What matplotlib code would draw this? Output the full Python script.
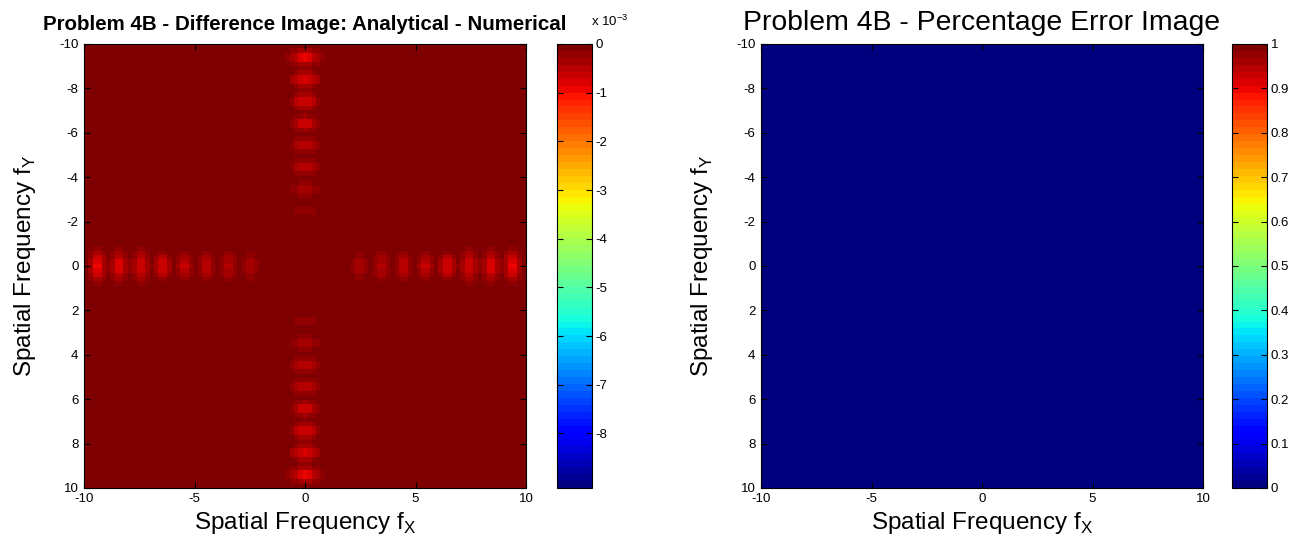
import matplotlib
matplotlib.use('Agg')
import matplotlib.pyplot as plt
import numpy as np

plt.rcParams['font.family'] = ['Liberation Sans', 'DejaVu Sans']
plt.rcParams['axes.unicode_minus'] = False

# blob centres along fy=0 (horizontal streak) and fx=0 (vertical streak)
h_centres = [-9.5, -8.5, -7.5, -6.5, -5.5, -4.5, -3.5, -2.5, -1.5,
             1.5, 2.5, 3.5, 4.5, 5.5, 6.5, 7.5, 8.5, 9.5]
h_depths = [0.95, 0.9, 0.75, 0.7, 0.65, 0.55, 0.5, 0.4, 0.15,
            0.15, 0.4, 0.5, 0.55, 0.65, 0.7, 0.75, 0.9, 0.95]   # x 1e-3
v_centres = [-9.5, -8.5, -7.5, -6.5, -5.5, -4.5, -3.5, -2.5, -1.5,
             1.5, 2.5, 3.5, 4.5, 5.5, 6.5, 7.5, 8.5, 9.5]
v_depths = [0.95, 0.85, 0.75, 0.7, 0.6, 0.55, 0.45, 0.3, 0.1,
            0.1, 0.3, 0.45, 0.55, 0.6, 0.7, 0.75, 0.85, 0.95]   # x 1e-3

diff_min, diff_max = -9.12e-3, 0.0
cb1_ticks = [0, -1, -2, -3, -4, -5, -6, -7, -8]
pct_min, pct_max = 0.0, 1.0
cb2_ticks = [0, 0.1, 0.2, 0.3, 0.4, 0.5, 0.6, 0.7, 0.8, 0.9, 1]
cb2_labels = ['0', '0.1', '0.2', '0.3', '0.4', '0.5', '0.6', '0.7', '0.8', '0.9', '1']

f = np.linspace(-10, 10, 101)
FX, FY = np.meshgrid(f, f)

diff_img = np.zeros_like(FX)
for c, d in zip(h_centres, h_depths):
    diff_img -= d * 1e-3 * np.exp(-((FX - c) / 0.33) ** 2 - (FY / 0.65) ** 2)
for c, d in zip(v_centres, v_depths):
    diff_img -= d * 1e-3 * np.exp(-(FX / 0.6) ** 2 - ((FY - c) / 0.33) ** 2)
diff_img = np.minimum(diff_img, 0)

pct_img = np.zeros_like(FX)

jet = plt.get_cmap('jet', 64)

fig = plt.figure(figsize=(13.02, 5.44), dpi=100)
ax1 = fig.add_axes([84 / 1302, 1 - 488 / 544, 442 / 1302, 444 / 544])
cax1 = fig.add_axes([557 / 1302, 1 - 488 / 544, 35 / 1302, 444 / 544])
ax2 = fig.add_axes([761 / 1302, 1 - 488 / 544, 442 / 1302, 444 / 544])
cax2 = fig.add_axes([1232 / 1302, 1 - 488 / 544, 35 / 1302, 444 / 544])

im1 = ax1.imshow(diff_img, cmap=jet, vmin=diff_min, vmax=diff_max,
                 extent=[-10, 10, 10, -10], aspect='auto', interpolation='nearest')
im2 = ax2.imshow(pct_img, cmap=jet, vmin=pct_min, vmax=pct_max,
                 extent=[-10, 10, 10, -10], aspect='auto', interpolation='nearest')

for ax in (ax1, ax2):
    ax.set_xlim(-10, 10)
    ax.set_ylim(10, -10)
    ax.set_xticks([-10, -5, 0, 5, 10])
    ax.set_yticks(np.arange(-10, 11, 2))
    ax.tick_params(direction='in', top=True, right=True, labelsize=9.5, length=4)
    ax.tick_params(axis='x', pad=3.5)
    ax.tick_params(axis='y', pad=4)
    ax.set_xlabel('Spatial Frequency f$_\\mathregular{X}$', fontsize=17.5)
    ax.set_ylabel('Spatial Frequency f$_\\mathregular{Y}$', fontsize=17.5)
    ax.xaxis.set_label_coords(0.5, -0.05)
    ax.yaxis.set_label_coords(-0.104, 0.5)

ax1.set_title('Problem 4B - Difference Image: Analytical - Numerical',
              fontsize=14.8, fontweight='bold', pad=10)
ax2.set_title('Problem 4B - Percentage Error Image', fontsize=20.4, pad=10)

cb1 = fig.colorbar(im1, cax=cax1)
cb1.set_ticks([t * 1e-3 for t in cb1_ticks])
cb1.set_ticklabels([str(t) for t in cb1_ticks])
cb2 = fig.colorbar(im2, cax=cax2)
cb2.set_ticks(cb2_ticks)
cb2.set_ticklabels(cb2_labels)
for cb in (cb1, cb2):
    cb.ax.tick_params(direction='in', left=True, right=True, labelsize=9.5,
                      length=4, pad=2.5)
    cb.outline.set_linewidth(0.8)
cax1.text(0.98, 1.04, 'x 10$^\\mathregular{-3}$', transform=cax1.transAxes,
          fontsize=9.5, ha='left', va='baseline')

fig.savefig('out.png', dpi=100)
